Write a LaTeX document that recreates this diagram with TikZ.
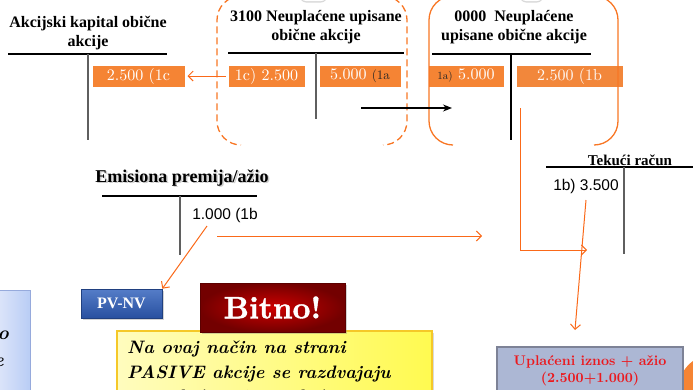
\documentclass[tikz,border=0pt]{standalone}
\usepackage{fontspec}
\newfontfamily\tms{Liberation Serif}
\newfontfamily\arl{Liberation Sans}
\newfontfamily\lmr{lmroman10-regular.otf}
\newfontfamily\lmbx{lmroman10-bold.otf}
\newfontfamily\lmbxx{lmroman10-bold.otf}[FakeBold=1.2]
\newfontfamily\lmbi{lmroman10-bolditalic.otf}
\usetikzlibrary{shadows,arrows.meta}
\definecolor{obox}{RGB}{245,132,52}
\definecolor{oline}{RGB}{248,118,36}
\definecolor{oarr}{RGB}{250,105,25}
\definecolor{tgrey}{RGB}{95,95,95}
\definecolor{pvA}{RGB}{85,125,200}
\definecolor{pvB}{RGB}{40,80,160}
\definecolor{redA}{RGB}{205,0,0}
\definecolor{redB}{RGB}{115,0,0}
\definecolor{yelA}{RGB}{255,252,190}
\definecolor{yelB}{RGB}{255,250,80}
\definecolor{yelD}{RGB}{245,200,40}
\definecolor{gbox}{RGB}{172,183,212}
\definecolor{gboxD}{RGB}{125,130,150}
\definecolor{lbA}{RGB}{225,232,250}
\definecolor{lbB}{RGB}{185,205,245}
\definecolor{lbD}{RGB}{150,170,220}
\definecolor{txred}{RGB}{235,25,30}
\begin{document}
\begin{tikzpicture}[x=1pt,y=-1pt,
  acctitle/.style={align=center,inner sep=0pt,font=\tms\bfseries\fontsize{16}{19}\selectfont},
  hline/.style={draw=black,line width=1.2pt},
  vline/.style={draw=tgrey,line width=1.5pt},
  obx/.style={fill=obox,draw=white,line width=3pt,inner sep=0pt,minimum height=24pt,
    text=white,font=\lmr\fontsize{16}{18}\selectfont,
    drop shadow={opacity=0.35,shadow xshift=1.5pt,shadow yshift=-1.5pt}},
  bracketD/.style={draw=oline,line width=1.3pt,dash pattern=on 7pt off 4pt,rounded corners=24pt},
  bracketS/.style={draw=oline,line width=1.3pt,rounded corners=24pt},
  oarrow/.style={draw=oarr,line width=1pt,-{Straight Barb[length=5pt,width=10pt]}},
  sanslbl/.style={inner sep=0pt,font=\arl\fontsize{15.5}{18}\selectfont},
]
\useasboundingbox (0,0) rectangle (693,389);
\clip (0,0) rectangle (693,389);

% small shapes at the top edge
\fill[white,rounded corners=6pt,drop shadow={opacity=0.3,shadow xshift=0pt,shadow yshift=-1.5pt}] (300,-20) rectangle (327,1);
\fill[white,rounded corners=6pt,drop shadow={opacity=0.3,shadow xshift=0pt,shadow yshift=-1.5pt}] (520,-20) rectangle (543,1);

% ---- Akcijski kapital obicne akcije
\node[acctitle] (t1) at (88,33) {Akcijski kapital obične\\akcije};
\draw[hline] (8,54) -- (167,54);
\draw[vline] (88,54) -- (88,140);
\node[obx,minimum width=95pt] (a2500) at (138.5,76) {2.500 (1c};

% ---- 3100
\node[acctitle] (t2) at (316,27) {3100 Neuplaćene upisane\\obične akcije};
\draw[hline] (228,53) -- (404,53);
\draw[vline] (316,53) -- (316,119);
\node[obx,minimum width=79pt] (b1c) at (266.5,76) {1c) 2.500};
\node[obx,minimum width=84pt] (b5000) at (360,76) {5.000 \textcolor{black!85}{\fontsize{13}{15}\selectfont(1a}};

% ---- 0000
\node[acctitle] (t3) at (514,27) {0000\ \ Neuplaćene\\upisane obične akcije};
\draw[hline] (432,54) -- (591,54);
\draw[draw=black,line width=1.2pt] (511,54) -- (511,140);
\node[obx,minimum width=78pt] (c1a) at (466,76) {\textcolor{black!85}{\fontsize{11}{13}\selectfont 1a)} 5.000};
\node[obx,minimum width=109pt,fill opacity=0.95] (c2500) at (569.5,76) {2.500 (1b};

% brackets
\draw[bracketD] (241,-4) -- (217,-4) -- (217,145) -- (241,145);
\draw[bracketD] (383,-4) -- (407,-4) -- (407,145) -- (383,145);
\draw[bracketS] (453,-4) -- (429,-4) -- (429,145) -- (453,145);
\draw[bracketS] (594,-4) -- (618,-4) -- (618,145) -- (594,145);

% arrow 1c
\draw[oarrow] (b1c.west) -- (a2500.east);

% black arrow
\coordinate (k1) at (361,108);
\coordinate (k2) at (452,108);
\draw[line width=1.2pt,-{Stealth[length=9pt,width=7pt]}] (k1) -- (k2);

% ---- Tekuci racun
\node[inner sep=0pt,font=\tms\bfseries\fontsize{15}{18}\selectfont] (t4) at (630,160) {Tekući račun};
\draw[hline] (546,167) -- (700,167);
\draw[vline] (624,167) -- (624,254);
\node[sanslbl] (tr) at (586,186) {1b) 3.500};

% orange elbow from 0000
\coordinate (m1) at (520,108);
\coordinate (m2) at (587,250);
\draw[oarrow] (m1) |- (m2);

% ---- Emisiona premija
\node[inner sep=0pt,font=\tms\bfseries\fontsize{18}{21}\selectfont,text=black!20] at (183.5,179.5) {Emisiona premija/ažio};
\node[inner sep=0pt,font=\tms\bfseries\fontsize{18}{21}\selectfont] (t5) at (182,178) {Emisiona premija/ažio};
\draw[hline] (102,196) -- (257,196);
\draw[vline] (180,196) -- (180,255);
\node[sanslbl] (em) at (225,215) {1.000 (1b};

% PV-NV
\node[inner sep=0pt,minimum width=81pt,minimum height=29pt,top color=pvA,bottom color=pvB,
  draw=pvB!80!black,line width=0.6pt,text=white,font=\tms\bfseries\fontsize{16}{19}\selectfont,
  drop shadow={opacity=0.35,shadow xshift=1.5pt,shadow yshift=-1.5pt}] (pv) at (121.5,303.5) {PV-NV};

\coordinate (e1) at (207,226);
\draw[oarrow] (e1) -- (pv.north east);
\coordinate (e2) at (217,236);
\coordinate (e3) at (482,236);
\draw[oarrow] (e2) -- (e3);

% arrow from tekuci racun down
\coordinate (r1) at (586,200);
\coordinate (r2) at (575,330);
\draw[oarrow] (r1) -- (r2);

% left blue box
\node[inner sep=0pt,minimum width=36pt,minimum height=110pt,left color=lbA,right color=lbB,
  draw=lbD,line width=0.8pt] (lb) at (12,345) {};
\node[inner sep=0pt,font=\lmbi\fontsize{19}{25}\selectfont,anchor=east] at (9,335) {o};
\node[inner sep=0pt,font=\lmbi\fontsize{19}{25}\selectfont,anchor=east] at (4,362) {e};

% yellow box
\node[inner sep=0pt,minimum width=315pt,minimum height=75pt,left color=yelA,right color=yelB,
  draw=yelD,line width=1.2pt,drop shadow={opacity=0.3,shadow xshift=1.5pt,shadow yshift=-1.5pt}] (yb) at (274.5,368.5) {};
\node[anchor=north west,inner sep=0pt,align=left,font=\lmbi\fontsize{18}{24.5}\selectfont] (ytxt) at (127,341)
  {Na ovaj način na strani\\PASIVE akcije se razdvajaju\\na uplaćene i neuplaćene};

% Bitno
\node[inner sep=0pt,minimum width=145pt,minimum height=49pt,inner color=redA,outer color=redB,
  draw=redB!80!black,line width=0.6pt,text=white,font=\lmbxx\fontsize{31}{36}\selectfont,
  drop shadow={opacity=0.35,shadow xshift=1.5pt,shadow yshift=-1.5pt}] (bt) at (272.5,307.5) {Bitno!};

% orange blob bottom right
\fill[obox] (712,388) circle (33pt);

% grey box
\node[inner sep=0pt,minimum width=186pt,minimum height=50pt,fill=gbox,draw=gboxD,line width=1.5pt] (gb) at (590,372) {};
\node[inner sep=0pt,align=center,text=txred,font=\lmbx\fontsize{14}{17}\selectfont] (gtxt) at (590,370.5) {Uplaćeni iznos + ažio\\(2.500+1.000)};
\end{tikzpicture}
\end{document}
